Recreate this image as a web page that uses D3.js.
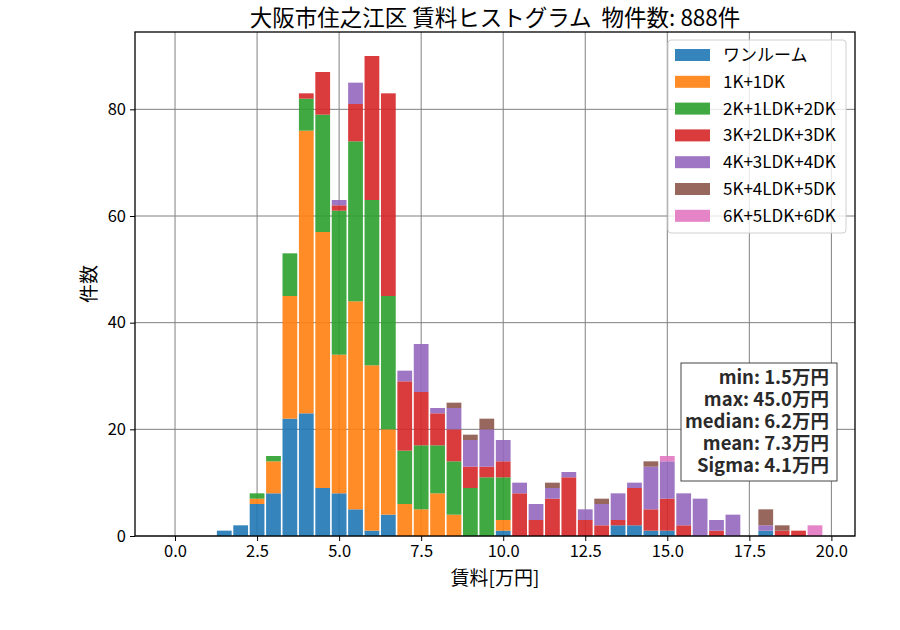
<!DOCTYPE html>
<html>
<head>
<meta charset="utf-8">
<script src="https://cdn.jsdelivr.net/npm/d3@7"></script>
<style>
  body { margin: 0; background: #fff; }
  text { font-family: "Noto Sans CJK JP", "Noto Sans", sans-serif; white-space: pre; }
</style>
</head>
<body>
<div id="root"></div>
<script>
// bin centres (bin width 0.5)
const binCenters = [0.0, 0.5, 1.0, 1.5, 2.0, 2.5, 3.0, 3.5, 4.0, 4.5,
  5.0, 5.5, 6.0, 6.5, 7.0, 7.5, 8.0, 8.5, 9.0, 9.5,
  10.0, 10.5, 11.0, 11.5, 12.0, 12.5, 13.0, 13.5, 14.0, 14.5,
  15.0, 15.5, 16.0, 16.5, 17.0, 17.5, 18.0, 18.5, 19.0, 19.5];

const categories = ["ワンルーム", "1K+1DK", "2K+1LDK+2DK", "3K+2LDK+3DK", "4K+3LDK+4DK", "5K+4LDK+5DK", "6K+5LDK+6DK"];

const oneRoom = [0,0,0,1,2,6,8,22,23,9, 8,5,1,4,0,0,0,0,0,0, 1,0,0,0,0,0,0,2,2,1, 1,0,0,0,0,0,1,0,0,0];
const k1      = [0,0,0,0,0,1,6,23,53,48, 26,39,31,16,6,5,8,4,0,0, 2,0,0,0,0,0,0,0,0,0, 0,0,0,0,0,0,0,0,0,0];
const k2      = [0,0,0,0,0,1,1,8,6,22, 27,30,31,25,10,12,9,10,9,11, 8,0,0,0,0,0,0,0,0,0, 0,0,0,0,0,0,0,0,0,0];
const k3      = [0,0,0,0,0,0,0,0,1,8, 1,7,27,38,13,10,6,6,4,2, 3,8,3,7,11,3,2,1,7,4, 6,2,0,1,0,0,0,1,1,0];
const k4      = [0,0,0,0,0,0,0,0,0,0, 1,4,0,0,2,9,1,4,5,7, 4,2,3,2,1,2,4,5,1,8, 7,6,7,2,4,0,1,0,0,0];
const k5      = [0,0,0,0,0,0,0,0,0,0, 0,0,0,0,0,0,0,1,1,2, 0,0,0,1,0,0,1,0,0,1, 0,0,0,0,0,0,3,1,0,0];
const k6      = [0,0,0,0,0,0,0,0,0,0, 0,0,0,0,0,0,0,0,0,0, 0,0,0,0,0,0,0,0,0,0, 1,0,0,0,0,0,0,0,0,2];

const seriesValues = [oneRoom, k1, k2, k3, k4, k5, k6];
const colors = ["#1f77b4", "#ff7f0e", "#2ca02c", "#d62728", "#9467bd", "#8c564b", "#e377c2"];

const xTicks = [0, 2.5, 5, 7.5, 10, 12.5, 15, 17.5, 20];
const yTicks = [0, 20, 40, 60, 80];
const statLines = ["min: 1.5万円", "max: 45.0万円", "median: 6.2万円", "mean: 7.3万円", "Sigma: 4.1万円"];
const titleText = "大阪市住之江区 賃料ヒストグラム  物件数: 888件";

const binWidth = 0.5;
const rwidth = 0.9;

const w = 900, h = 630;
const margin = { left: 135, right: 45, top: 32, bottom: 94 };

const svg = d3.select("#root").append("svg")
  .attr("width", w)
  .attr("height", h);

const table = binCenters.map((c, i) => {
  const row = { center: c };
  categories.forEach((cat, j) => { row[cat] = seriesValues[j][i]; });
  return row;
});
const stacked = d3.stack().keys(categories)(table);

const x = d3.scaleLinear()
  .domain([-0.2225, 19.7225].map((v, i, a) => v + (i === 0 ? -1 : 1) * 0.05 * (a[1] - a[0])))
  .range([margin.left, w - margin.right]);
const y = d3.scaleLinear()
  .domain([0, 94.5])
  .range([h - margin.bottom, margin.top]);

// grid
const grid = svg.append("g").attr("stroke", "#808080").attr("stroke-width", 1);
xTicks.forEach(t => grid.append("line")
  .attr("x1", x(t)).attr("x2", x(t))
  .attr("y1", y.range()[0]).attr("y2", y.range()[1]));
yTicks.forEach(t => grid.append("line")
  .attr("x1", x.range()[0]).attr("x2", x.range()[1])
  .attr("y1", y(t)).attr("y2", y(t)));

// bars
const bw = binWidth * rwidth;
svg.append("g").selectAll("g")
  .data(stacked)
  .enter()
  .append("g")
  .attr("fill", (d, i) => colors[i])
  .attr("fill-opacity", 0.9)
  .selectAll("rect")
  .data(d => d.filter(s => s[1] > s[0]))
  .enter()
  .append("rect")
  .attr("x", d => x(d.data.center - bw / 2))
  .attr("width", d => x(d.data.center + bw / 2) - x(d.data.center - bw / 2))
  .attr("y", d => y(d[1]))
  .attr("height", d => y(d[0]) - y(d[1]));

// axes
const xAxis = svg.append("g")
  .attr("transform", `translate(0,${y.range()[0]})`)
  .call(d3.axisBottom(x).tickValues(xTicks).tickFormat(d3.format(".1f")).tickSizeOuter(0).tickSize(5).tickPadding(4));
const yAxis = svg.append("g")
  .attr("transform", `translate(${x.range()[0]},0)`)
  .call(d3.axisLeft(y).tickValues(yTicks).tickSizeOuter(0).tickSize(5).tickPadding(4));
[xAxis, yAxis].forEach(a => {
  a.select(".domain").remove();
  a.selectAll("text").style("font-size", "16.5px").attr("fill", "#000");
  a.selectAll("line").attr("stroke", "#000");
});

// frame
svg.append("rect")
  .attr("x", x.range()[0]).attr("y", y.range()[1])
  .attr("width", x.range()[1] - x.range()[0])
  .attr("height", y.range()[0] - y.range()[1])
  .attr("fill", "none").attr("stroke", "#000").attr("stroke-width", 1.3);

// title and labels
const cx = (x.range()[0] + x.range()[1]) / 2;
svg.append("text").attr("x", cx).attr("y", 26)
  .attr("text-anchor", "middle").style("font-size", "22.5px").text(titleText);
svg.append("text").attr("x", cx).attr("y", 585)
  .attr("text-anchor", "middle").style("font-size", "19px").text("賃料[万円]");
svg.append("text")
  .attr("transform", `translate(96,${(y.range()[0] + y.range()[1]) / 2}) rotate(-90)`)
  .attr("text-anchor", "middle").style("font-size", "19px").text("件数");

// legend
const legend = svg.append("g").attr("transform", "translate(668,40)");
legend.append("rect")
  .attr("width", 178).attr("height", 193).attr("rx", 3)
  .attr("fill", "#fff").attr("fill-opacity", 0.8)
  .attr("stroke", "#d0d0d0");
categories.forEach((cat, i) => {
  const row = legend.append("g").attr("transform", `translate(0,${15 + i * 26.8})`);
  row.append("rect").attr("x", 7).attr("y", -6).attr("width", 35).attr("height", 12)
    .attr("fill", colors[i]).attr("fill-opacity", 0.9);
  row.append("text").attr("x", 55).attr("y", 6).style("font-size", "17px").text(cat);
});

// stats box: one multi-line text block
const stats = svg.append("g");
stats.append("rect")
  .attr("x", 681).attr("y", 363).attr("width", 156).attr("height", 118)
  .attr("fill", "#fff").attr("stroke", "#444").attr("stroke-width", 1);
const statText = stats.append("text")
  .attr("x", 829).attr("y", 384)
  .attr("text-anchor", "end")
  .style("font-size", "18.5px").style("font-weight", "bold")
  .attr("fill", "#2a2a2a");
statLines.forEach((s, i) => statText.append("tspan")
  .attr("x", 829).attr("dy", i === 0 ? 0 : 22)
  .text(s));
</script>
</body>
</html>
